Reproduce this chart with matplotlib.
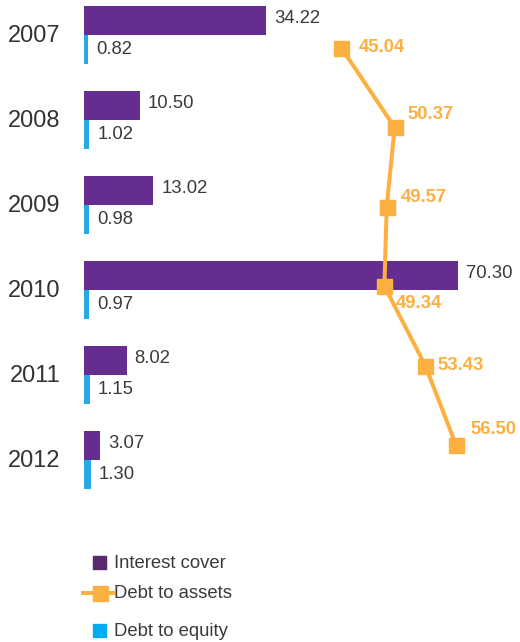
import matplotlib.pyplot as plt
from matplotlib.patches import Rectangle
from matplotlib.lines import Line2D

plt.rcParams['font.family'] = ['Liberation Sans', 'DejaVu Sans']

years = ['2007', '2008', '2009', '2010', '2011', '2012']
interest_cover = [34.22, 10.50, 13.02, 70.30, 8.02, 3.07]
debt_to_equity = [0.82, 1.02, 0.98, 0.97, 1.15, 1.30]
debt_to_assets = [45.04, 50.37, 49.57, 49.34, 53.43, 56.50]

purple = '#652D90'
blue = '#27AAE1'
orange = '#FBB040'
grey = '#3a3a3a'

W, H = 520, 642
fig = plt.figure(figsize=(W / 100, H / 100), dpi=100)

# bar panel: starts at x=84px, spans top 510px of the figure
rect = [84 / W, (H - 510) / H, (W - 84) / W, 510 / H]
ax = fig.add_axes(rect)
idx = list(range(len(years)))
ax.barh([i - 0.17 for i in idx], interest_cover, height=0.34, color=purple, zorder=2)
ax.barh([i + 0.17 for i in idx], debt_to_equity, height=0.34, color=blue, zorder=2)
ax.set_xlim(0, 436 / 5.32)
ax.set_ylim(5.588, -0.412)

for i, v in enumerate(interest_cover):
    ax.annotate(f'{v:.2f}', (v, i - 0.19), xytext=(8, 0), textcoords='offset pixels',
                va='center', ha='left', fontsize=13.3, color=grey)
for i, v in enumerate(debt_to_equity):
    ax.annotate(f'{v:.2f}', (v, i + 0.17), xytext=(8, 0), textcoords='offset pixels',
                va='center', ha='left', fontsize=13.3, color=grey)

ax.set_yticks([i - 0.02 for i in idx])
ax.set_yticklabels(years, fontsize=17, color='#333333')
ax.tick_params(axis='y', length=0, pad=17)
ax.set_xticks([])
for s in ax.spines.values():
    s.set_visible(False)
ax.patch.set_visible(False)

# debt to assets line on its own overlay axes (10px per point, 56.50 at x=456px)
ax2 = fig.add_axes(rect)
ax2.plot(debt_to_assets, idx, color=orange, lw=2.9, marker='s', markersize=10.8,
         solid_joinstyle='miter', zorder=3)
ax2.set_xlim(56.5 - 37.2, 56.5 + 6.4)
ax2.set_ylim(5.819, -0.6045)
ax2.axis('off')

label_offsets = [(17, 0), (13, 12.5), (14, 9), (11, -17.5), (12, 0), (14, 15)]
for i, (v, off) in enumerate(zip(debt_to_assets, label_offsets)):
    ax2.annotate(f'{v:.2f}', (v, i), xytext=off, textcoords='offset pixels',
                 va='center', ha='left', fontsize=13.3, fontweight='bold', color=orange)

# legend
def fx(px):
    return px / W

def fy(py):
    return 1 - py / H

fig.add_artist(Rectangle((fx(93), fy(569)), 13 / W, 13 / H, transform=fig.transFigure,
                         color='#5B2A6E'))
fig.add_artist(Line2D([fx(83), fx(113)], [fy(593), fy(593)], transform=fig.transFigure,
                      color=orange, lw=2.9))
fig.add_artist(Line2D([fx(99.5)], [fy(593)], transform=fig.transFigure,
                      color=orange, marker='s', markersize=10.8, lw=0))
fig.add_artist(Rectangle((fx(93), fy(637)), 13 / W, 13 / H, transform=fig.transFigure,
                         color='#00AEEF'))
for label, py in [('Interest cover', 563), ('Debt to assets', 593), ('Debt to equity', 631)]:
    fig.text(fx(114), fy(py), label, fontsize=13.3, color=grey, va='center', ha='left')

fig.savefig('out.png', dpi=100, facecolor='white')
